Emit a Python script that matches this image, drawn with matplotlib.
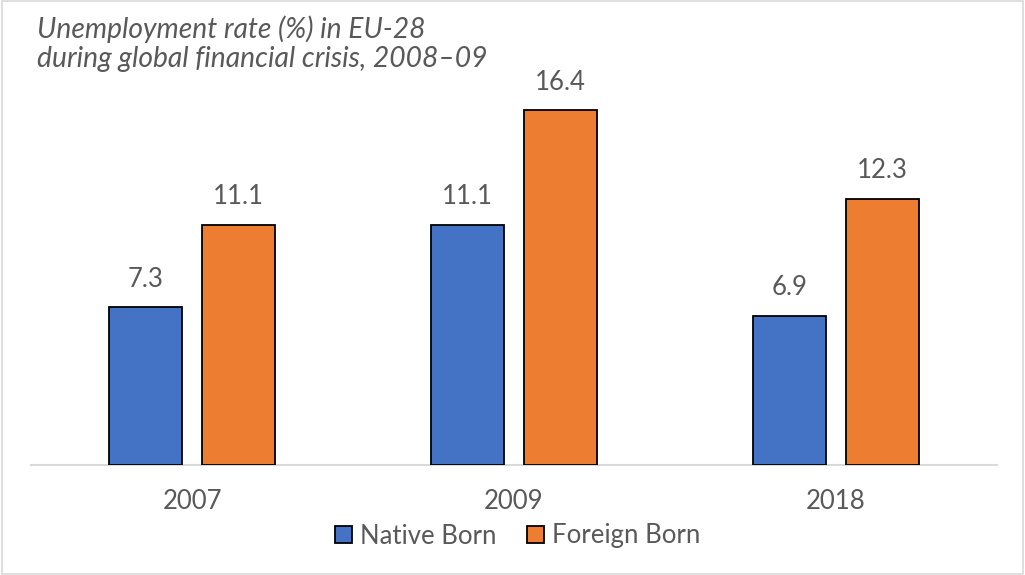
import matplotlib
matplotlib.use("Agg")
import matplotlib.pyplot as plt
from matplotlib.patches import Patch, Rectangle
import numpy as np

plt.rcParams['font.family'] = ['Lato', 'DejaVu Sans']

title = "Unemployment rate (%) in EU-28\nduring global financial crisis, 2008\u201309"
years = ["2007", "2009", "2018"]
native_born = [7.3, 11.1, 6.9]
foreign_born = [11.1, 16.4, 12.3]
series_names = ["Native Born", "Foreign Born"]
colors = ["#4472C4", "#ED7D31"]
text_color = "#595959"

W, H = 1025, 575
fig = plt.figure(figsize=(W / 100, H / 100), dpi=100)

# chart frame
fig.patches.append(Rectangle((2 / W, 1 / H), (W - 4) / W, (H - 2) / H, transform=fig.transFigure,
                             fill=False, edgecolor="#D9D9D9", linewidth=1.2))

ax_left, ax_right = 31, 997
ax_bottom, ax_top = 465, 40
ax = fig.add_axes([ax_left / W, 1 - ax_bottom / H, (ax_right - ax_left) / W, (ax_bottom - ax_top) / H])
px_per_unit = 21.65
ax.set_ylim(0, (ax_bottom - ax_top) / px_per_unit)
ax.set_xlim(-0.5, len(years) - 0.5)

x = np.arange(len(years))
width = 0.227
offset = 0.1445
for vals, off, col in [(native_born, -offset, colors[0]), (foreign_born, offset, colors[1])]:
    bars = ax.bar(x + off, vals, width, color=col, edgecolor="black", linewidth=1.3, zorder=3)
    for b, v in zip(bars, vals):
        ax.annotate(f"{v:.1f}", (b.get_x() + b.get_width() / 2, v), xytext=(0, 11),
                    textcoords="offset points", ha="center", va="bottom",
                    fontsize=18.5, color=text_color)

for s in ["top", "right", "left"]:
    ax.spines[s].set_visible(False)
ax.spines["bottom"].set_color("#D9D9D9")
ax.spines["bottom"].set_linewidth(1.5)
ax.set_yticks([])
ax.set_xticks(x)
ax.set_xticklabels(years, fontsize=18.5, color=text_color)
ax.tick_params(axis="x", length=0, pad=17)

handles = [Patch(facecolor=c, edgecolor="black", linewidth=1.3) for c in colors]
fig.legend(handles, series_names, loc="center", bbox_to_anchor=(0.505, 1 - 536 / H), ncol=2,
           frameon=False, fontsize=18.5, labelcolor=text_color, handlelength=0.65, handleheight=0.65,
           handletextpad=0.3, columnspacing=1.2)

fig.text(37 / W, 1 - 67 / H, title, ha="left", va="baseline", fontsize=20.3, style="italic",
         color=text_color, linespacing=1.12)

fig.savefig("out.png", dpi=100)
